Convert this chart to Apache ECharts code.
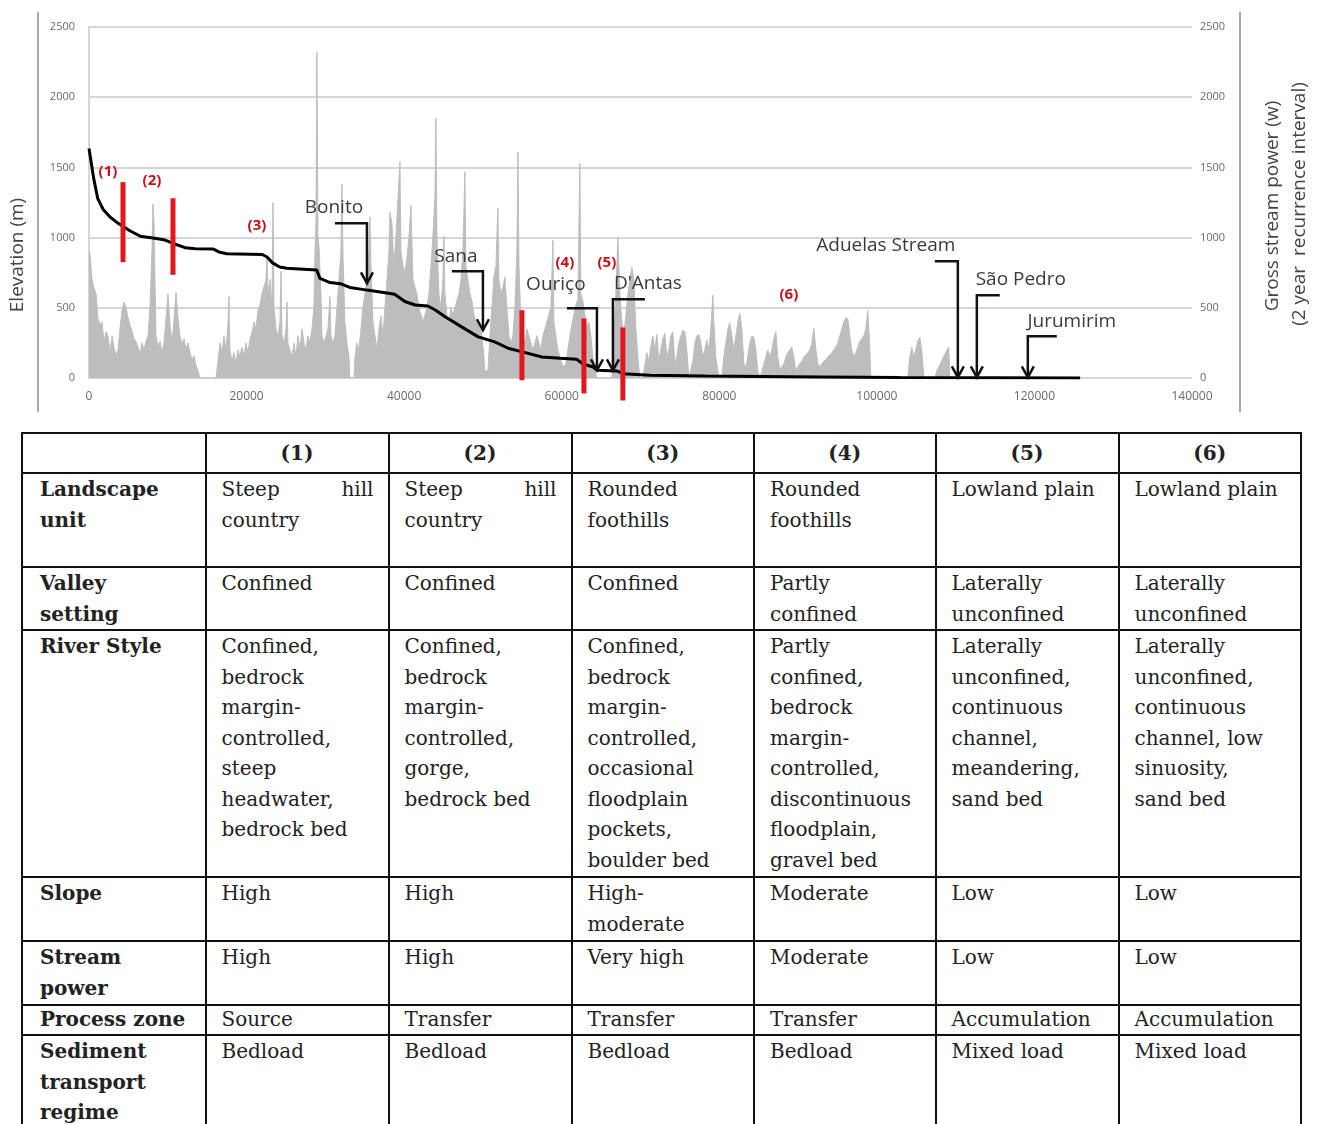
<!DOCTYPE html>
<html><head><meta charset="utf-8">
<script src="https://cdn.jsdelivr.net/npm/echarts@6/dist/echarts.min.js"></script>
<style>
html,body{margin:0;padding:0;background:#fff;width:1323px;height:1124px;overflow:hidden;}
#chart{position:absolute;left:0;top:0;width:1323px;height:425px;}
table{position:absolute;left:21px;top:432px;border-collapse:collapse;table-layout:fixed;width:1279px;font-family:'DejaVu Serif',serif;font-size:20px;color:#222;}
td{border:2px solid #111;vertical-align:top;padding:0 14px 0 15px;line-height:30.5px;box-sizing:border-box;white-space:nowrap;overflow:hidden;}
tr.h td{text-align:center;font-weight:bold;vertical-align:middle;padding:0;}
td.f{font-weight:bold;padding-left:17px;}
.j{display:flex;justify-content:space-between;}
tr.pz td{line-height:27px;}
</style></head>
<body>
<div id="chart"></div>
<table>
<colgroup><col style="width:183.5px"><col style="width:183px"><col style="width:183px"><col style="width:182.5px"><col style="width:181.5px"><col style="width:183px"><col style="width:182.5px"></colgroup>
<tr class="h" style="height:40px"><td></td><td>(1)</td><td>(2)</td><td>(3)</td><td>(4)</td><td>(5)</td><td>(6)</td></tr>
<tr style="height:94px"><td class="f">Landscape<br>unit</td><td><div class="j"><span>Steep</span><span>hill</span></div>country</td><td><div class="j"><span>Steep</span><span>hill</span></div>country</td><td>Rounded<br>foothills</td><td>Rounded<br>foothills</td><td>Lowland plain</td><td>Lowland plain</td></tr>
<tr style="height:63px"><td class="f">Valley<br>setting</td><td>Confined</td><td>Confined</td><td>Confined</td><td>Partly<br>confined</td><td>Laterally<br>unconfined</td><td>Laterally<br>unconfined</td></tr>
<tr style="height:247px"><td class="f">River Style</td><td>Confined,<br>bedrock<br>margin-<br>controlled,<br>steep<br>headwater,<br>bedrock bed</td><td>Confined,<br>bedrock<br>margin-<br>controlled,<br>gorge,<br>bedrock bed</td><td>Confined,<br>bedrock<br>margin-<br>controlled,<br>occasional<br>floodplain<br>pockets,<br>boulder bed</td><td>Partly<br>confined,<br>bedrock<br>margin-<br>controlled,<br>discontinuous<br>floodplain,<br>gravel bed</td><td>Laterally<br>unconfined,<br>continuous<br>channel,<br>meandering,<br>sand bed</td><td>Laterally<br>unconfined,<br>continuous<br>channel, low<br>sinuosity,<br>sand bed</td></tr>
<tr style="height:64px"><td class="f">Slope</td><td>High</td><td>High</td><td>High-<br>moderate</td><td>Moderate</td><td>Low</td><td>Low</td></tr>
<tr style="height:64px"><td class="f">Stream<br>power</td><td>High</td><td>High</td><td>Very high</td><td>Moderate</td><td>Low</td><td>Low</td></tr>
<tr class="pz" style="height:30px"><td class="f">Process zone</td><td>Source</td><td>Transfer</td><td>Transfer</td><td>Transfer</td><td>Accumulation</td><td>Accumulation</td></tr>
<tr style="height:130px"><td class="f">Sediment<br>transport<br>regime</td><td>Bedload</td><td>Bedload</td><td>Bedload</td><td>Bedload</td><td>Mixed load</td><td>Mixed load</td></tr>
</table>
<script>
// Elevation profile (distance m, elevation m)
const elevDist = [0,600,1100,1800,2700,3500,4300,5300,6500,8100,9500,10600,12200,13500,15800,16600,17500,22000,22600,23300,24200,25100,28900,29300,30600,31900,33100,35300,37800,38800,40100,41400,43000,43900,45200,47300,49400,51500,53200,55000,57500,59800,61900,62700,64000,64500,67000,67800,71200,78200,92800,103000,125800];
const elevVal  = [1635,1420,1280,1200,1145,1110,1080,1045,1010,997,985,960,928,920,918,895,885,880,862,820,790,781,770,710,680,672,645,626,606,596,545,520,513,486,436,364,293,257,212,186,150,140,134,100,78,55,50,31,19,15,8,4,0];

// Gross stream power (distance m, W)
const streamPower = [[0,900],[127,880],[380,700],[630,640],[890,600],[1140,420],[1400,380],[1650,400],[1900,260],[2160,330],[2410,300],[2660,180],[2920,300],[3170,220],[3430,160],[3680,200],[3930,350],[4190,480],[4440,540],[4700,500],[4950,430],[5200,380],[5460,330],[5710,280],[5960,260],[6220,220],[6470,170],[6730,250],[6980,200],[7230,260],[7490,300],[7740,500],[7990,900],[8120,1240],[8250,1100],[8500,300],[8760,220],[9010,260],[9260,180],[9520,250],[9770,420],[10020,600],[10280,380],[10530,250],[10790,420],[11040,610],[11290,430],[11550,300],[11800,240],[12060,280],[12310,200],[12560,250],[12820,180],[13070,130],[13320,160],[13580,90],[13830,50],[14090,0],[16120,0],[16370,120],[16620,250],[16880,180],[17130,300],[17380,200],[17640,380],[17760,580],[17890,200],[18150,120],[18400,180],[18650,100],[18910,200],[19160,150],[19420,220],[19670,150],[19920,250],[20180,180],[20430,280],[20680,320],[20940,400],[21190,350],[21440,480],[21700,520],[21950,600],[22210,650],[22460,700],[22590,850],[22720,600],[22970,700],[23220,500],[23350,1250],[23480,500],[23730,350],[23990,300],[24240,400],[24370,760],[24490,300],[24750,250],[25000,350],[25130,540],[25250,250],[25510,200],[25760,150],[26020,250],[26270,150],[26520,300],[26780,200],[27030,350],[27280,250],[27540,200],[27790,300],[28040,250],[28300,350],[28550,500],[28680,900],[28810,1100],[28930,2320],[29060,1000],[29190,940],[29310,930],[29440,600],[29570,300],[29820,250],[30080,300],[30330,350],[30580,580],[30710,300],[30960,250],[31220,300],[31470,500],[31720,700],[31980,900],[32100,1380],[32230,900],[32480,400],[32740,250],[32990,150],[33120,0],[33630,0],[33760,150],[34010,250],[34260,200],[34520,350],[34770,500],[35020,600],[35280,700],[35530,900],[35660,1150],[35790,800],[36040,400],[36300,300],[36550,200],[36800,350],[37060,440],[37310,300],[37560,500],[37820,700],[38070,900],[38200,1180],[38450,1100],[38700,800],[38960,1000],[39210,1000],[39470,1540],[39590,900],[39850,800],[40100,750],[40350,850],[40610,1000],[40860,1230],[41120,700],[41370,650],[41620,600],[41880,500],[42130,450],[42380,400],[42640,450],[42890,500],[43150,600],[43400,800],[43650,1000],[43910,1300],[44030,1850],[44160,1000],[44410,600],[44670,500],[44920,700],[45050,1010],[45170,600],[45430,450],[45680,400],[45940,500],[46190,450],[46450,500],[46700,550],[46950,600],[47210,700],[47460,900],[47710,1470],[47840,800],[48090,700],[48350,600],[48600,550],[48860,450],[49110,400],[49360,420],[49620,380],[49870,300],[50130,150],[50250,50],[50630,50],[50890,300],[51140,500],[51390,720],[51650,800],[51900,1210],[52030,700],[52280,600],[52540,650],[52790,720],[53040,500],[53300,300],[53550,250],[53800,300],[54060,500],[54310,900],[54440,1610],[54570,800],[54820,400],[55070,300],[55330,250],[55580,350],[55840,300],[56090,250],[56340,200],[56600,250],[56850,300],[57100,250],[57360,200],[57610,300],[57870,350],[58120,400],[58370,450],[58630,500],[58880,980],[59010,400],[59260,300],[59510,200],[59770,150],[60020,100],[60270,80],[60530,100],[60780,200],[61040,300],[61290,380],[61540,450],[61800,520],[62050,560],[62300,1530],[62430,600],[62680,550],[62940,450],[63190,350],[63440,400],[63700,300],[63950,150],[64210,50],[64460,0],[66370,0],[66620,300],[66870,600],[67130,1000],[67380,600],[67630,400],[67890,300],[68140,450],[68400,600],[68650,700],[68900,790],[69160,700],[69410,350],[69660,150],[69920,0],[70300,0],[70560,100],[70810,180],[71060,120],[71320,230],[71570,300],[71820,200],[72080,310],[72330,120],[72580,200],[72840,280],[73090,320],[73340,150],[73600,200],[73850,300],[74100,330],[74360,100],[74610,150],[74870,250],[75120,300],[75370,340],[75630,330],[75880,200],[76140,0],[76390,0],[76650,120],[76900,250],[77150,300],[77410,310],[77660,250],[77910,150],[78170,200],[78420,270],[78670,200],[78930,350],[79180,590],[79310,400],[79560,150],[79820,50],[80070,0],[80330,0],[80580,150],[80830,250],[81090,350],[81340,390],[81600,300],[81850,200],[82100,300],[82360,400],[82610,460],[82860,350],[83120,100],[83370,80],[83620,150],[83880,250],[84130,300],[84390,290],[84640,200],[84890,50],[85150,0],[85400,50],[85660,100],[85910,150],[86160,200],[86420,150],[86670,200],[86930,280],[87180,330],[87430,150],[87690,60],[87940,80],[88190,100],[88450,150],[88700,180],[88960,200],[89210,220],[89460,150],[89720,50],[89970,80],[90230,100],[90480,120],[90740,150],[90990,160],[91240,180],[91500,200],[91750,250],[92000,355],[92260,200],[92510,100],[92760,80],[93020,100],[93270,120],[93530,130],[93780,150],[94030,160],[94290,180],[94540,200],[94790,220],[95050,250],[95300,300],[95560,350],[95810,400],[96060,430],[96320,420],[96570,300],[96820,200],[97080,150],[97330,180],[97580,220],[97840,260],[98090,250],[98350,300],[98600,350],[98850,480],[98980,480],[99110,200],[99230,0],[103930,0],[104180,150],[104430,220],[104690,150],[104940,200],[105190,260],[105450,290],[105700,200],[105960,0],[107350,0],[107610,50],[107860,80],[108120,110],[108370,140],[108620,170],[108880,200],[109130,220],[109260,0]];

// Zone boundaries: [distance, low elevation, high elevation]
const zoneBars = [[4315,825,1395],[10660,735,1280],[54950,-16,483],[62820,-110,424],[67760,-160,360]];
const zoneNames = ['(1)','(2)','(3)','(4)','(5)','(6)'];
const zoneLabelAt = [[2410,1472],[7990,1408],[21320,1088],[60400,824],[65730,824],[88830,596]];

// Tributaries: arrow tip distance, tip elevation, arm elevation, arm end distance, label point
const tribNames   = ['Bonito','Sana','Ouriço',"D'Antas",'Aduelas Stream','São Pedro','Jurumirim'];
const tribTipDist = [35280,50000,64470,66500,110280,112690,119160];
const tribTipElev = [674,340,55,55,5,5,5];
const tribArmElev = [1102,760,497,561,831,589,297];
const tribArmEnd  = [31220,46060,60660,70560,107360,115600,122840];
const tribLabel   = [[31090,1214],[46570,866],[59260,667],[70940,674],[101140,945],[118270,702],[124740,404]];

const chart = echarts.init(document.getElementById('chart'), null, {renderer:'canvas'});
const elevData = elevDist.map((d,i)=>[d, elevVal[i]]);
const tribData = tribNames.map((n,i)=>[tribTipDist[i], tribTipElev[i], tribArmElev[i], tribArmEnd[i], tribLabel[i][0], tribLabel[i][1]]);
const zoneLabelData = zoneLabelAt.map(p=>[p[0],p[1]]);
const FONT = '"Open Sans", "Liberation Sans", sans-serif';
const plain = v => String(v);

chart.setOption({
  animation:false,
  backgroundColor:'#fff',
  grid:{left:89,right:131,top:27,bottom:47},
  xAxis:{type:'value',min:0,max:140000,interval:20000,
    axisLine:{show:false},axisTick:{show:false},splitLine:{show:false},
    axisLabel:{color:'#6a6a6a',fontSize:12,fontFamily:FONT,margin:13,formatter:plain}},
  yAxis:[
    {type:'value',min:0,max:2500,interval:500,position:'left',
     axisLine:{show:true,lineStyle:{color:'#d6d6d6',width:2}},axisTick:{show:false},
     splitLine:{lineStyle:{color:'#d6d6d6',width:2}},
     axisLabel:{color:'#6a6a6a',fontSize:11,fontFamily:FONT,margin:14,formatter:plain}},
    {type:'value',min:0,max:2500,interval:500,position:'right',
     axisLine:{show:false},axisTick:{show:false},splitLine:{show:false},
     axisLabel:{color:'#6a6a6a',fontSize:11,fontFamily:FONT,margin:8,formatter:plain}}
  ],
  graphic:[
    {type:'line',shape:{x1:38,y1:12,x2:38,y2:412},style:{stroke:'#a8a8a8',lineWidth:2}},
    {type:'line',shape:{x1:1240,y1:12,x2:1240,y2:412},style:{stroke:'#a8a8a8',lineWidth:2}},
    {type:'text',x:18,y:255,rotation:Math.PI/2,style:{text:'Elevation (m)',font:'19px '+FONT,fill:'#444',align:'center',verticalAlign:'middle'}},
    {type:'text',x:1273,y:206,rotation:Math.PI/2,style:{text:'Gross stream power (w)',font:'19px '+FONT,fill:'#444',align:'center',verticalAlign:'middle'}},
    {type:'text',x:1300,y:204,rotation:Math.PI/2,style:{text:'(2 year  recurrence interval)',font:'19px '+FONT,fill:'#444',align:'center',verticalAlign:'middle'}}
  ],
  series:[
    {type:'line',name:'Gross stream power',yAxisIndex:1,data:streamPower,symbol:'none',showSymbol:false,
     lineStyle:{color:'#bdbdbd',width:1},areaStyle:{color:'#bdbdbd',opacity:1},z:1},
    {type:'line',name:'Elevation',yAxisIndex:0,data:elevData,symbol:'none',showSymbol:false,
     lineStyle:{color:'#000',width:3},z:3},
    {type:'custom',name:'Zone boundaries',yAxisIndex:0,data:zoneBars,z:5,clip:false,
     renderItem:(params,api)=>{
       const a=api.coord([api.value(0),api.value(1)]);
       const b=api.coord([api.value(0),api.value(2)]);
       return {type:'line',shape:{x1:a[0],y1:a[1],x2:b[0],y2:b[1]},style:{stroke:'#e3151d',lineWidth:5}};
     }},
    {type:'custom',name:'Zone labels',yAxisIndex:0,data:zoneLabelData,z:6,clip:false,
     renderItem:(params,api)=>{
       const p=api.coord([api.value(0),api.value(1)]);
       return {type:'text',x:p[0],y:p[1],style:{text:zoneNames[params.dataIndex],font:'bold 15px '+FONT,fill:'#c8101a',align:'center',verticalAlign:'middle'}};
     }},
    {type:'custom',name:'Tributaries',yAxisIndex:0,data:tribData,z:7,clip:false,
     renderItem:(params,api)=>{
       const tip=api.coord([api.value(0),api.value(1)]);
       const elbow=api.coord([api.value(0),api.value(2)]);
       const arm=api.coord([api.value(3),api.value(2)]);
       const lab=api.coord([api.value(4),api.value(5)]);
       return {type:'group',children:[
         {type:'polyline',shape:{points:[arm,elbow,tip]},style:{stroke:'#111',lineWidth:2.5,fill:null}},
         {type:'polyline',shape:{points:[[tip[0]-6,tip[1]-11],tip,[tip[0]+6,tip[1]-11]]},style:{stroke:'#111',lineWidth:2.5,fill:null}},
         {type:'text',x:lab[0],y:lab[1],style:{text:tribNames[params.dataIndex],font:'19px '+FONT,fill:'#3a3a3a',align:'center',verticalAlign:'middle'}}
       ]};
     }}
  ]
});
</script>
</body></html>
